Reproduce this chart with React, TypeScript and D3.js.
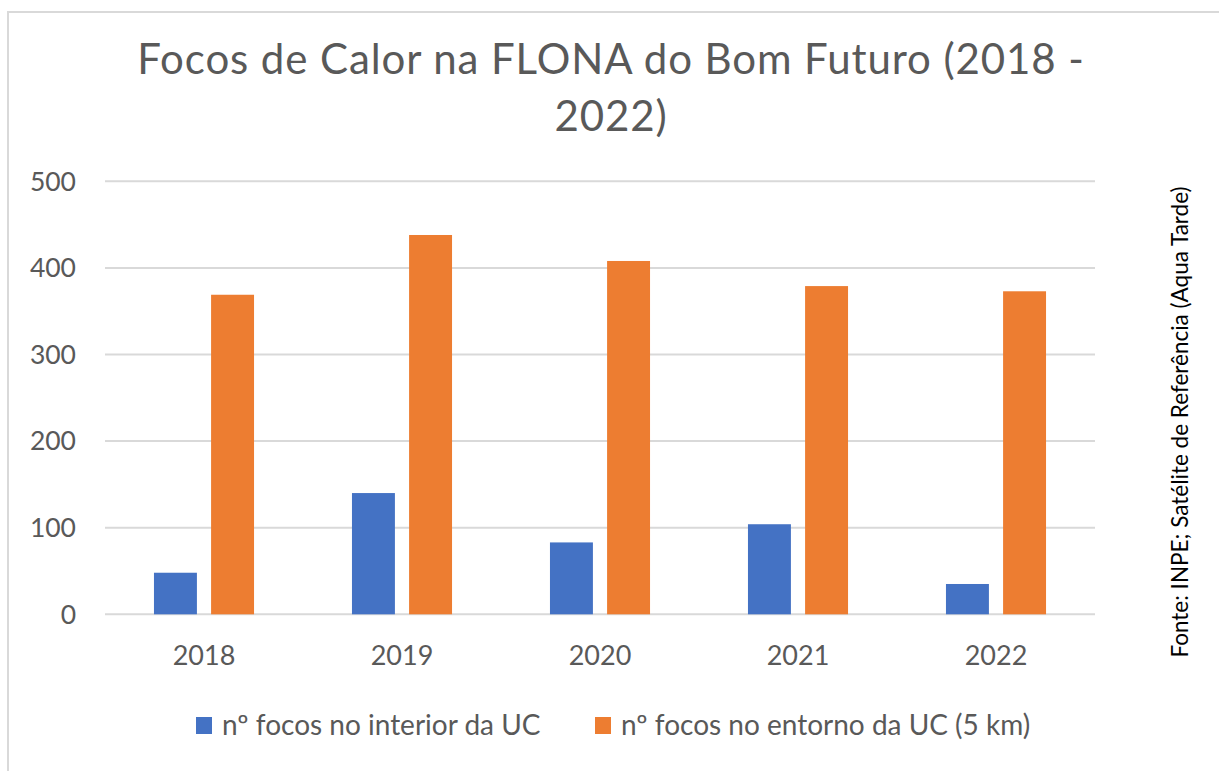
import { scaleBand, scaleLinear } from "d3"

const years = ["2018", "2019", "2020", "2021", "2022"]
const interiorValues = [48, 140, 83, 104, 35]
const entornoValues = [369, 438, 408, 379, 373]
const seriesNames = ["nº focos no interior da UC", "nº focos no entorno da UC (5 km)"]
const yTicks = [0, 100, 200, 300, 400, 500]
const titleLines = ["Focos de Calor na FLONA do Bom Futuro (2018 -", "2022)"]
const sourceText = "Fonte: INPE; Satélite de Referência (Aqua Tarde)"

const WIDTH = 1219
const HEIGHT = 771
const PLOT = { left: 105, right: 1095, top: 181.3, bottom: 614.3 }
const COLORS = ["#4472C4", "#ED7D31"]
const TEXT = "#595959"
const GRID = "#d9d9d9"
const FONT = "Lato, 'Open Sans', sans-serif"

// excel style: gap width and (negative) overlap, as fraction of bar width
const GAP_WIDTH = 2.28
const OVERLAP = -0.33

export default function App() {
  const xScale = scaleBand().domain(years).range([PLOT.left, PLOT.right]).padding(0)
  const yScale = scaleLinear().domain([0, 500]).range([PLOT.bottom, PLOT.top])

  const band = xScale.bandwidth()
  const barW = band / (2 - OVERLAP + GAP_WIDTH)
  const step = barW * (1 - OVERLAP)
  const groupW = barW + step
  const series = [interiorValues, entornoValues]

  const grid = yTicks.map((t) => (
    <g key={t}>
      <line x1={PLOT.left} x2={PLOT.right} y1={yScale(t)} y2={yScale(t)} stroke={GRID} strokeWidth={2} />
      <text x={76} y={yScale(t)} dy="0.35em" textAnchor="end" fontSize={26.5} fill={TEXT}>
        {t}
      </text>
    </g>
  ))

  const bars = years.map((yr, i) => {
    const x0 = (xScale(yr) ?? 0) + (band - groupW) / 2
    return (
      <g key={yr}>
        {series.map((vals, s) => (
          <rect
            key={s}
            x={x0 + s * step}
            y={yScale(vals[i])}
            width={barW}
            height={yScale(0) - yScale(vals[i])}
            fill={COLORS[s]}
          />
        ))}
        <text x={(xScale(yr) ?? 0) + band / 2} y={665} textAnchor="middle" fontSize={27} fill={TEXT}>
          {yr}
        </text>
      </g>
    )
  })

  const legendX = [196, 595]

  return (
    <div style={{ position: "absolute", left: 0, top: 0 }}>
      <svg width={WIDTH} height={HEIGHT} fontFamily={FONT} style={{ display: "block", background: "#fff" }}>
        <rect x={8} y={12} width={WIDTH} height={HEIGHT} fill="#fff" stroke={GRID} strokeWidth={2} />
        {titleLines.map((line, i) => (
          <text key={i} x={611} y={74 + i * 57} textAnchor="middle" fontSize={42} letterSpacing={0.9} fill={TEXT}>
            {line}
          </text>
        ))}
        {grid}
        {bars}
        {seriesNames.map((name, s) => (
          <g key={name}>
            <rect x={legendX[s]} y={717} width={16} height={17} fill={COLORS[s]} />
            <text x={legendX[s] + 26} y={735} fontSize={28} fill={TEXT}>
              {name}
            </text>
          </g>
        ))}
        <text
          transform={`translate(1188, 422) rotate(-90)`}
          textAnchor="middle"
          fontSize={22.5}
          fill="#000"
        >
          {sourceText}
        </text>
      </svg>
    </div>
  )
}
